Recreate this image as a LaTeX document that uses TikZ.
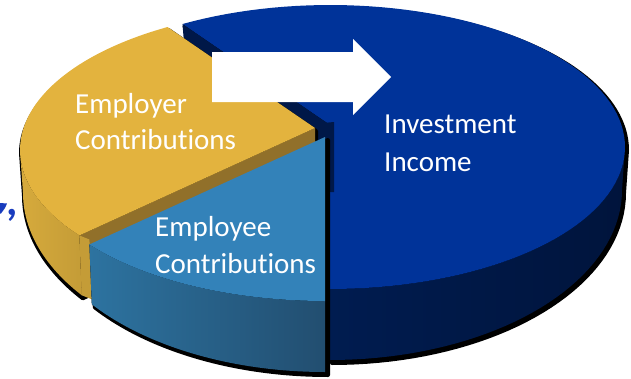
\documentclass[tikz,border=0pt]{standalone}
\usepackage{fontspec}
\setmainfont{Carlito}[Ligatures={NoCommon}]
\definecolor{bluetop}{RGB}{0,51,153}
\definecolor{bluesideL}{RGB}{0,28,80}
\definecolor{bluesideR}{RGB}{0,20,60}
\definecolor{navy}{RGB}{0,24,72}
\definecolor{yeltop}{RGB}{227,179,62}
\definecolor{yelsideL}{RGB}{214,170,60}
\definecolor{yelsideR}{RGB}{196,156,55}
\definecolor{yelcut}{RGB}{145,112,42}
\definecolor{ltop}{RGB}{51,130,185}
\definecolor{lsideL}{RGB}{45,115,160}
\definecolor{lsideR}{RGB}{34,78,112}
\definecolor{commablue}{RGB}{25,60,190}
\tikzset{
  shadowfill/.style={fill=black, draw=black, line width=4pt, line join=round},
  lbl/.style={text=white, font=\fontsize{29}{34}\selectfont, anchor=base west, inner sep=0pt},
  comma/.style={text=commablue, font=\bfseries\fontsize{44}{50}\selectfont, anchor=base west, inner sep=0pt}
}
\begin{document}
\begin{tikzpicture}[x=1pt,y=-1pt]
\useasboundingbox (0,0) rectangle (631,378);
% ---------- blue slice (Investment Income) ----------
\fill[shadowfill, shift={(2,3)}] (330,125) -- plot[domain=120:0, samples=60, variable=\t] ({330+295*cos(\t)},{147-142*sin(\t)}) -- plot[domain=0:-90, samples=40, variable=\t] ({330+292*cos(\t)},{190-170*sin(\t)}) -- cycle;
\fill[left color=bluesideL, right color=bluesideR] plot[domain=0:-90, samples=40, variable=\t] ({330+295*cos(\t)},{147-142*sin(\t)}) -- plot[domain=-90:0, samples=40, variable=\t] ({330+292*cos(\t)},{190-170*sin(\t)}) -- cycle;
\fill[bluetop] (330,125) -- plot[domain=120:-90, samples=90, variable=\t] ({330+295*cos(\t)},{147-142*sin(\t)}) -- cycle;
\fill[navy] (330,125) -- ({330+295*cos(120)},{147-142*sin(120)}) -- ({330+292*cos(120)},{190-170*sin(120)}) -- (330,185) -- cycle;
\fill[navy] (312,124) -- (334,122) -- (334,192) -- (326,192) -- cycle;
% ---------- yellow slice (Employer) ----------
\fill[shadowfill, shift={(1,3)}] (315,128) -- plot[domain=120:180, samples=40, variable=\t] ({315+295*cos(\t)},{150-142*sin(\t)}) -- plot[domain=180:217, samples=30, variable=\t] ({315+292*cos(\t)},{193-170*sin(\t)}) -- (315,183) -- cycle;
\fill[left color=yelsideL, right color=yelsideR] plot[domain=180:217, samples=30, variable=\t] ({315+295*cos(\t)},{150-142*sin(\t)}) -- plot[domain=217:180, samples=30, variable=\t] ({315+292*cos(\t)},{193-170*sin(\t)}) -- cycle;
\fill[yelcut] (315,128) -- ({315+295*cos(217)},{150-142*sin(217)}) -- ({315+292*cos(217)},{193-170*sin(217)}) -- (315,183) -- cycle;
\fill[yelsideR] ({315+295*cos(217)},{150-142*sin(217)}) -- ({315+295*cos(217)+10},{150-142*sin(217)+4}) -- ({315+292*cos(217)+10},{193-170*sin(217)+4}) -- ({315+292*cos(217)},{193-170*sin(217)}) -- cycle;
\fill[yeltop] (315,128) -- plot[domain=120:217, samples=60, variable=\t] ({315+295*cos(\t)},{150-142*sin(\t)}) -- cycle;
% ---------- light blue slice (Employee) ----------
\fill[shadowfill, shift={(3,3)}] (325,137) -- ({325+295*cos(217)},{159-142*sin(217)}) -- plot[domain=217:270, samples=40, variable=\t] ({325+292*cos(\t)},{202-170*sin(\t)}) -- cycle;
\fill[left color=lsideL, right color=lsideR] plot[domain=217:270, samples=40, variable=\t] ({325+295*cos(\t)},{159-142*sin(\t)}) -- plot[domain=270:217, samples=40, variable=\t] ({325+292*cos(\t)},{202-170*sin(\t)}) -- cycle;
\fill[ltop] (325,137) -- plot[domain=217:270, samples=50, variable=\t] ({325+295*cos(\t)},{159-142*sin(\t)}) -- cycle;
% ---------- white arrow ----------
\fill[white] (212,52) -- (353,52) -- (353,39) -- (391,77) -- (353,115) -- (353,102) -- (212,102) -- cycle;
% ---------- labels ----------
\node[lbl] (er1) at (75,113) {Employer};
\node[lbl] (er2) at (75,149) {Contributions};
\node[lbl] (ee1) at (155,236) {Employee};
\node[lbl] (ee2) at (155,273) {Contributions};
\node[lbl] (ii1) at (384,133) {Investment};
\node[lbl] (ii2) at (384,171) {Income};
% cut-off glyph fragment at the left edge, and the comma
\fill[commablue] (0,203) -- (7,203.5) -- (5,208) -- (1,213.5) -- (0,213.5) -- cycle;
\node[comma] (c2) at (6,215) {,};
\end{tikzpicture}
\end{document}
